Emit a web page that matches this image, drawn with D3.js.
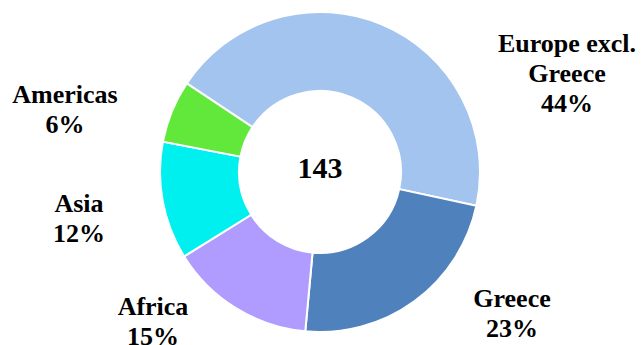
<!DOCTYPE html>
<html>
<head>
<meta charset="utf-8">
<script src="https://cdn.jsdelivr.net/npm/d3@7"></script>
<style>
  html, body { margin: 0; padding: 0; background: #fff; }
  svg { display: block; }
  text { font-family: "Liberation Serif", "Times New Roman", serif; font-weight: bold; fill: #000; }
</style>
</head>
<body>
<svg id="chart" width="641" height="345"></svg>
<script>
// Regions and counts (total 143)
const regions = ["Europe excl. Greece", "Greece", "Africa", "Asia", "Americas"];
const counts = [63, 33, 21, 17, 9];
const percentLabels = ["44%", "23%", "15%", "12%", "6%"];
const labelLines = [["Europe excl.", "Greece"], ["Greece"], ["Africa"], ["Asia"], ["Americas"]];
const colors = ["#A3C4EF", "#4F81BD", "#B09CFF", "#00F0F0", "#62E83A"];

// Label anchor points (centre x, first baseline y)
const labelPos = [[567, 52], [512, 307], [153, 315], [79, 212], [65, 103]];

const svg = d3.select("#chart");
const cx = 320, cy = 172, outerR = 160, innerR = 81;
const total = d3.sum(counts);

const pie = d3.pie()
  .value(d => d)
  .sort(null)
  .startAngle(-56.4 * Math.PI / 180)
  .endAngle((360 - 56.4) * Math.PI / 180);

const arc = d3.arc().innerRadius(innerR).outerRadius(outerR);
const color = d3.scaleOrdinal().domain(regions).range(colors);

const g = svg.append("g").attr("transform", `translate(${cx},${cy})`);
g.selectAll("path")
  .data(pie(counts))
  .join("path")
  .attr("d", arc)
  .attr("fill", (d, i) => color(regions[i]))
  .attr("stroke", "#fff")
  .attr("stroke-width", 2);

g.append("text")
  .attr("text-anchor", "middle")
  .attr("y", 6)
  .attr("font-size", 30)
  .text(total);

const lineH = 30;
regions.forEach((r, i) => {
  const t = svg.append("text")
    .attr("text-anchor", "middle")
    .attr("font-size", 26)
    .attr("x", labelPos[i][0])
    .attr("y", labelPos[i][1]);
  const lines = labelLines[i].concat([percentLabels[i]]);
  lines.forEach((l, k) => {
    t.append("tspan")
      .attr("x", labelPos[i][0])
      .attr("dy", k === 0 ? 0 : lineH)
      .text(l);
  });
});
</script>
</body>
</html>
